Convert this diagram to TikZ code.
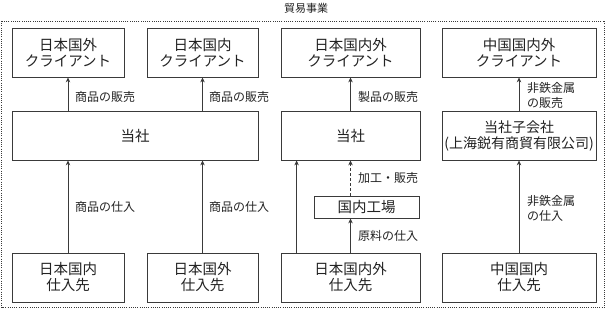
\documentclass[tikz,border=0pt]{standalone}
\usepackage{fontspec}
\setmainfont{Noto Sans CJK JP}
\usetikzlibrary{arrows.meta,calc}
\definecolor{ln}{HTML}{3A3A3A}
\definecolor{tx}{HTML}{222222}
\tikzset{
  box/.style={draw=ln, line width=0.8pt, inner sep=0pt, align=center, text=tx,
    font=\fontsize{14.5}{16}\selectfont},
  lbl/.style={anchor=west, inner sep=0pt, align=left, text=tx,
    font=\fontsize{12}{15}\selectfont},
  arr/.style={draw=ln, line width=0.8pt, -{Stealth[length=5pt,width=4.5pt]}},
}
\begin{document}
\begin{tikzpicture}[x=1pt,y=-1pt]
\useasboundingbox (0,0) rectangle (606,310);
% frame and title
\draw[ln, line width=0.7pt, dash pattern=on 1pt off 1.2pt] (1.5,21) rectangle (604.5,307.5);
\node[text=tx, font=\fontsize{11}{13}\selectfont, inner sep=0pt] (title) at (306,8) {貿易事業};
% top boxes
\node[box, minimum width=112pt, minimum height=49pt] (a1) at (68,52.5) {日本国外\\クライアント};
\node[box, minimum width=111pt, minimum height=49pt] (a2) at (202.5,52.5) {日本国内\\クライアント};
\node[box, minimum width=139pt, minimum height=49pt] (a3) at (350.5,52.5) {日本国内外\\クライアント};
\node[box, minimum width=154pt, minimum height=49pt] (a4) at (519,52.5) {中国国内外\\クライアント};
% middle boxes
\node[box, minimum width=246pt, minimum height=49pt] (m1) at (135,135.5) {当社};
\node[box, minimum width=139pt, minimum height=49pt] (m3) at (350.5,135.5) {当社};
\node[box, minimum width=154pt, minimum height=49pt, font=\fontsize{14}{16}\selectfont] (m4) at (519,135.5) {当社子会社\\(上海鋭有商貿有限公司)};
% factory
\node[box, minimum width=105pt, minimum height=22pt] (f) at (366.5,207) {国内工場};
% bottom boxes
\node[box, minimum width=112pt, minimum height=49pt] (b1) at (68,277.5) {日本国内\\仕入先};
\node[box, minimum width=111pt, minimum height=49pt] (b2) at (202.5,277.5) {日本国外\\仕入先};
\node[box, minimum width=139pt, minimum height=49pt] (b3) at (350.5,277.5) {日本国内外\\仕入先};
\node[box, minimum width=154pt, minimum height=49pt] (b4) at (519,277.5) {中国国内\\仕入先};
% column 1-2 arrows
\draw[arr] (a1.south |- m1.north) -- (a1.south);
\draw[arr] (a2.south |- m1.north) -- (a2.south);
\draw[arr] (b1.north) -- (b1.north |- m1.south);
\draw[arr] (b2.north) -- (b2.north |- m1.south);
\node[lbl] (l1) at (75,97) {商品の販売};
\node[lbl] (l2) at (209,97) {商品の販売};
\node[lbl] (l3) at (75,207) {商品の仕入};
\node[lbl] (l4) at (209,207) {商品の仕入};
% column 3
\draw[arr] (m3.north) -- (a3.south);
\draw[arr] ([xshift=16pt]b3.north west) -- ([xshift=16pt]m3.south west);
\draw[arr] (b3.north) -- (b3.north |- f.south);
\draw[arr, dash pattern=on 3pt off 2pt] (b3.north |- f.north) -- (b3.north |- m3.south);
\node[lbl] (l5) at (358,97) {製品の販売};
\node[lbl] (l6) at (358,178) {加工・販売};
\node[lbl] (l7) at (358,235.5) {原料の仕入};
% column 4
\draw[arr] (m4.north) -- (a4.south);
\draw[arr] (b4.north) -- (m4.south);
\node[lbl] (l8) at (527,95.5) {非鉄金属\\の販売};
\node[lbl] (l9) at (527,208) {非鉄金属\\の仕入};
\end{tikzpicture}
\end{document}
